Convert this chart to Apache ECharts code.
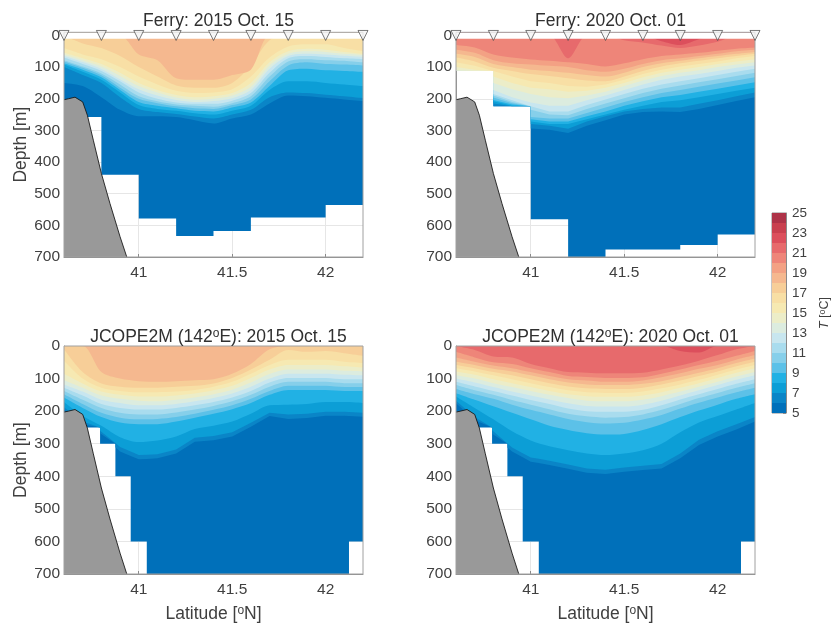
<!DOCTYPE html>
<html><head><meta charset="utf-8">
<style>html,body{margin:0;padding:0;background:#fff}#c{width:835px;height:625px}</style>
<script src="https://cdn.jsdelivr.net/npm/echarts@6/dist/echarts.min.js"></script>
</head><body><div id="c"></div>
<script>
const latGrid=[40.6,40.7,40.8,40.9,41.0,41.1,41.2,41.3,41.4,41.5,41.6,41.7,41.8,41.9,42.0,42.1,42.2];
const stationLat=[40.6,40.8,41.0,41.2,41.4,41.6,41.8,42.0,42.2];
const bathyLat=[40.6,40.623,40.659,40.7,40.725,40.757,40.8,40.846,40.9,40.936];
const bathyDepth=[203,200,195,210,252,331,436,531,636,700];
const bandColors=['#0070ba','#0a85c7','#0c9ed6','#21b1e4','#5cc1e8','#86cfea','#a9dcee','#c8e6ef','#dcecdf','#ecedc8','#f6e9b2','#f8dfa5','#f7ce98','#f5b88f','#f3a184','#ee8579','#e76a6c','#dc4f5c','#c9404f','#ae3348'];
const colorbarTicks=[5,7,9,11,13,15,17,19,21,23,25];
const depthTicks=[0,100,200,300,400,500,600,700];
const latTicks=[41,41.5,42];

// floor of the sampled section: step edges (lat) and depth of each step
const ferry2015FloorLat=[40.6,40.8,41.0,41.2,41.4,41.6,42.0,42.2];
const ferry2015Floor=[258,440,578,634,618,575,536];
const ferry2020FloorLat=[40.6,40.8,41.0,41.2,41.4,41.8,42.0,42.2];
const ferry2020Floor=[112,224,581,700,676,662,629];
const jcopeFloorLat=[40.6,40.793,40.875,40.957,41.043,42.125,42.2];
const jcopeFloor=[250,300,400,600,700,600];

// isotherm depth (m) along latGrid, listed coldest first from 6 degC
const ferry2015Iso=[
[150,160,195,235,255,255,258,268,278,262,250,215,190,192,197,202,207],
[100,125,150,195,232,242,248,256,262,250,235,195,180,182,187,192,198],
[92,115,140,180,220,232,238,246,250,238,222,172,145,145,150,155,160],
[88,108,132,172,210,222,230,238,240,228,212,160,110,105,110,112,115],
[82,102,126,165,200,214,224,230,232,220,202,145,95,85,90,92,95],
[78,98,120,155,192,208,218,222,225,214,192,130,82,75,78,80,85],
[70,90,112,145,180,200,212,216,216,206,182,118,72,65,68,72,75],
[64,84,106,138,170,190,204,210,207,198,172,105,65,58,60,64,68],
[60,78,98,128,160,180,196,203,200,190,162,95,58,50,52,58,62],
[55,72,90,118,150,172,188,195,192,182,150,85,50,42,45,52,58],
[40,60,75,100,130,155,175,182,180,170,130,70,35,28,28,40,50],
[0,25,40,65,100,130,158,165,165,150,95,15,0,0,0,0,0],
[0,0,0,0,60,78,135,140,140,125,108,0,0,0,0,0,0]];
const ferry2020Iso=[
[185,190,224,224,294,298,308,285,268,250,242,240,242,232,220,207,195],
[180,185,215,224,280,285,295,272,255,240,232,228,228,216,205,192,180],
[175,180,208,222,272,280,280,265,250,235,222,210,205,195,185,175,165],
[170,175,204,218,265,272,272,255,240,222,208,195,188,178,168,158,148],
[160,165,196,214,258,262,262,245,228,210,195,182,172,162,152,142,132],
[155,160,190,210,235,250,252,232,215,198,182,168,158,148,138,128,118],
[115,150,185,205,225,240,240,220,202,185,168,155,145,135,125,115,105],
[115,140,172,195,212,222,222,205,190,172,155,140,130,122,112,102,95],
[110,125,150,170,185,195,198,190,178,160,142,128,118,110,100,92,85],
[100,108,130,150,165,170,178,175,165,150,132,118,108,100,90,82,75],
[85,96,118,130,145,150,160,162,155,140,122,108,98,90,82,72,65],
[70,82,102,112,122,128,135,142,145,130,112,98,88,80,72,65,58],
[58,68,90,100,108,112,118,125,130,118,100,88,80,72,65,58,52],
[45,55,78,88,92,96,100,110,115,105,90,78,72,65,58,50,45],
[30,38,60,70,76,80,85,90,98,88,75,65,60,55,48,42,38],
[0,0,0,0,0,0,72,0,0,15,22,32,40,32,20,0,0],
[0,0,0,0,0,0,0,0,0,0,0,18,30,12,0,0,0]];
const jcope2015Iso=[
[195,240,270,324,348,345,330,294,289,278,248,215,224,221,214,214,217],
[188,232,262,310,335,332,318,282,276,265,236,205,210,208,202,202,205],
[172,215,245,280,295,290,278,255,245,232,208,182,180,178,172,172,175],
[158,190,218,235,240,240,232,220,208,194,175,150,135,135,135,138,138],
[148,178,205,220,225,224,218,208,196,182,162,138,122,122,122,126,126],
[138,165,190,205,210,210,204,195,184,170,150,125,110,110,110,114,114],
[128,152,178,190,195,195,190,182,172,158,138,112,98,98,98,102,102],
[118,140,165,175,182,182,178,170,160,146,125,100,85,85,85,88,90],
[105,128,152,162,168,170,165,158,148,134,112,86,72,72,72,76,78],
[85,115,140,150,155,155,152,146,136,122,98,72,58,58,58,62,66],
[45,100,128,138,142,142,140,135,125,110,85,58,42,42,42,48,52],
[10,80,115,125,128,128,125,122,115,98,72,42,12,18,15,22,30],
[0,0,80,100,108,110,108,105,102,85,55,10,0,0,0,0,0]];
const jcope2020Iso=[
[176,227,273,324,355,365,377,389,393,386,381,376,345,304,278,256,232],
[168,218,262,312,342,352,364,376,380,373,368,362,330,288,262,240,218],
[155,190,225,262,290,308,320,330,335,330,320,300,265,235,215,195,175],
[145,165,185,205,225,245,258,268,272,270,258,240,218,198,180,162,148],
[132,148,162,180,196,210,224,234,238,236,226,212,192,174,158,142,128],
[120,136,150,166,180,194,208,216,220,218,210,196,178,160,144,128,114],
[110,124,138,152,166,178,192,200,202,202,196,182,164,148,132,116,102],
[100,112,126,140,152,164,176,184,186,186,180,168,152,136,120,104,90],
[90,100,114,126,138,150,160,168,170,170,165,154,140,125,110,94,80],
[78,88,102,114,126,138,148,154,156,156,152,142,128,114,98,82,68],
[68,78,90,102,114,126,136,142,144,144,140,130,118,104,88,72,58],
[58,68,80,90,102,114,124,130,132,132,128,118,106,92,78,62,48],
[48,58,70,78,90,102,112,118,120,120,116,108,95,82,68,52,38],
[35,48,60,68,80,92,102,106,110,110,106,96,84,70,58,42,28],
[18,35,50,55,68,80,92,95,98,98,96,85,72,58,45,30,15],
[0,12,32,35,55,68,80,82,84,84,82,72,60,45,28,10,0],
[0,0,0,0,0,0,0,0,0,0,0,0,15,20,0,0,0]];

const TICK=15.5, TITLE=17.5, NAME=17.5, TXT='#404040', FRAME='#8a8a8a';
const FONT='"Liberation Sans",Arial,sans-serif';
const sup={fontSize:12,verticalAlign:'top',lineHeight:8,padding:[0,0,16,0],fontFamily:FONT};
const panels=[
 {title:'Ferry: 2015 Oct. 15',left:64,top:32.3,h:224.7,min:-10,iso:ferry2015Iso,fl:ferry2015FloorLat,fd:ferry2015Floor,ferry:1,yn:1},
 {title:'Ferry: 2020 Oct. 01',left:456,top:32.3,h:224.7,min:-10,iso:ferry2020Iso,fl:ferry2020FloorLat,fd:ferry2020Floor,ferry:1},
 {title:'JCOPE2M (142{s|o}E): 2015 Oct. 15',left:64,top:346,h:228,min:0,iso:jcope2015Iso,fl:jcopeFloorLat,fd:jcopeFloor,yn:1,xn:1},
 {title:'JCOPE2M (142{s|o}E): 2020 Oct. 01',left:456,top:346,h:228,min:0,iso:jcope2020Iso,fl:jcopeFloorLat,fd:jcopeFloor,xn:1}
];
const W=299;
const grid=[],xAxis=[],yAxis=[],series=[],title=[];
function floorAt(p,x,side){ // step depth just left (-1) or right (+1) of x
 for(let i=0;i<p.fd.length;i++){
  if(side<0? (x>p.fl[i]&&x<=p.fl[i+1]) : (x>=p.fl[i]&&x<p.fl[i+1])) return p.fd[i];
 }
 return p.fd[side<0?0:p.fd.length-1];
}
function isoPoints(p,row){
 const xs=[...new Set([...latGrid,...p.fl])].sort((a,b)=>a-b);
 const val=x=>{let i=latGrid.findIndex((v,k)=>x>=v&&x<=latGrid[k+1]);if(i<0)i=latGrid.length-2;
   const t=(x-latGrid[i])/(latGrid[i+1]-latGrid[i]);return row[i]+(row[i+1]-row[i])*t;};
 const clipped=xs.some(x=>val(x)>floorAt(p,x,-1)||val(x)>floorAt(p,x,1));
 if(!clipped) return {pts:row.map((d,i)=>[latGrid[i],d]),smooth:0.3};
 const pts=[];
 xs.forEach(x=>{const d=val(x);const a=Math.min(d,floorAt(p,x,-1)),b=Math.min(d,floorAt(p,x,1));
   pts.push([x,a]);if(b!==a)pts.push([x,b]);});
 return {pts,smooth:0};
}
const blank={type:'line',showSymbol:false,silent:true,lineStyle:{width:0},animation:false};
panels.forEach((p,k)=>{
 grid.push({left:p.left,top:p.top,width:W,height:p.h,show:false,outerBoundsMode:'none'});
 title.push({text:p.title,left:p.left+W/2,top:p.ferry?7:323,textAlign:'center',
   textStyle:{fontSize:TITLE,fontWeight:'normal',color:'#303030',fontFamily:FONT,rich:{s:Object.assign({},sup,{color:'#303030'})}}});
 xAxis.push({type:'value',gridIndex:k,min:40.6,max:42.2,
   name:p.xn?'Latitude [{s|o}N]':'',nameLocation:'middle',nameGap:31,
   nameTextStyle:{fontSize:NAME,color:TXT,fontFamily:FONT,rich:{s:Object.assign({},sup,{color:TXT})}},
   axisLine:{show:true,onZero:false,lineStyle:{color:FRAME}},
   axisTick:{show:true,inside:true,length:3,customValues:latTicks,lineStyle:{color:FRAME}},
   axisLabel:{customValues:latTicks,fontSize:TICK,color:TXT,fontFamily:FONT,margin:8,formatter:v=>String(v)},
   splitLine:{show:true,lineStyle:{color:'#e6e6e6',width:1}}});
 yAxis.push({type:'value',gridIndex:k,inverse:true,min:p.min,max:700,
   name:p.yn?'Depth [m]':'',nameLocation:'middle',nameGap:34,
   nameTextStyle:{fontSize:NAME,color:TXT,fontFamily:FONT},
   axisLine:{show:true,onZero:false,lineStyle:{color:FRAME}},
   axisTick:{show:true,inside:true,length:3,customValues:depthTicks,lineStyle:{color:FRAME}},
   axisLabel:{customValues:depthTicks,fontSize:TICK,color:TXT,fontFamily:FONT,margin:4},
   splitLine:{show:true,lineStyle:{color:'#e6e6e6',width:1}}});
 const ax={xAxisIndex:k,yAxisIndex:k};
 // coldest band fills down to the stepped floor
 const base=[];p.fd.forEach((d,i)=>{base.push([p.fl[i],d],[p.fl[i+1],d]);});
 series.push(Object.assign({},blank,ax,{data:base,z:2,areaStyle:{origin:'start',color:bandColors[0],opacity:1}}));
 p.iso.forEach((row,i)=>{
  const r=isoPoints(p,row);
  series.push(Object.assign({},blank,ax,{data:r.pts,smooth:r.smooth,z:2,areaStyle:{origin:'start',color:bandColors[i+1],opacity:1}}));
 });
 if(p.ferry){
  series.push(Object.assign({},blank,ax,{data:[[40.6,10],[42.2,10]],z:3,areaStyle:{origin:'start',color:'#fff',opacity:1}}));
  series.push({type:'scatter',...ax,data:stationLat.map(x=>[x,0]),symbol:'triangle',symbolRotate:180,symbolSize:[10,10],clip:false,z:6,silent:true,
    itemStyle:{color:'#f4f4f4',borderColor:'#333',borderWidth:0.8}});
 }
 series.push({type:'line',...ax,showSymbol:false,silent:true,z:4,data:bathyLat.map((x,i)=>[x,bathyDepth[i]]),
   lineStyle:{color:'#1a1a1a',width:0.9},areaStyle:{origin:'end',color:'#999999',opacity:1}});
 series.push({type:'line',...ax,showSymbol:false,silent:true,z:5,clip:false,
   data:[[40.6,p.min],[42.2,p.min],[42.2,700],[40.6,700],[40.6,p.min]],lineStyle:{color:'#a0a0a0',width:1}});
});
// colour bar
grid.push({left:772,top:213,width:14,height:200,show:true,borderColor:FRAME,borderWidth:1,outerBoundsMode:'none'});
xAxis.push({type:'category',gridIndex:4,data:['T'],axisLine:{show:false},axisTick:{show:false},axisLabel:{show:false},splitLine:{show:false}});
yAxis.push({type:'value',gridIndex:4,position:'right',min:5,max:25,
  name:'{i|T} [{s|o}C]',nameLocation:'middle',nameRotate:90,nameGap:32,
  nameTextStyle:{fontSize:12.5,color:TXT,fontFamily:FONT,rich:{i:{fontStyle:'italic',fontSize:12.5,color:TXT,fontFamily:FONT},s:{fontSize:9,verticalAlign:'top',lineHeight:6,padding:[0,0,9,0],color:TXT,fontFamily:FONT}}},
  axisLine:{show:true,lineStyle:{color:FRAME}},
  axisTick:{show:true,inside:true,length:3,customValues:colorbarTicks,lineStyle:{color:FRAME}},
  axisLabel:{customValues:colorbarTicks,fontSize:13.5,color:TXT,fontFamily:FONT,margin:6},splitLine:{show:false}});
for(let i=bandColors.length-1;i>=0;i--){
 series.push({type:'bar',xAxisIndex:4,yAxisIndex:4,data:[6+i],barWidth:'100%',barGap:'-100%',silent:true,z:2+(bandColors.length-i)*0.01,itemStyle:{color:bandColors[i]}});
}
const chart=echarts.init(document.getElementById('c'),null,{renderer:'canvas',width:835,height:625});
chart.setOption({animation:false,backgroundColor:'#fff',tooltip:{show:false},legend:{show:false},title,grid,xAxis,yAxis,series});
</script></body></html>
